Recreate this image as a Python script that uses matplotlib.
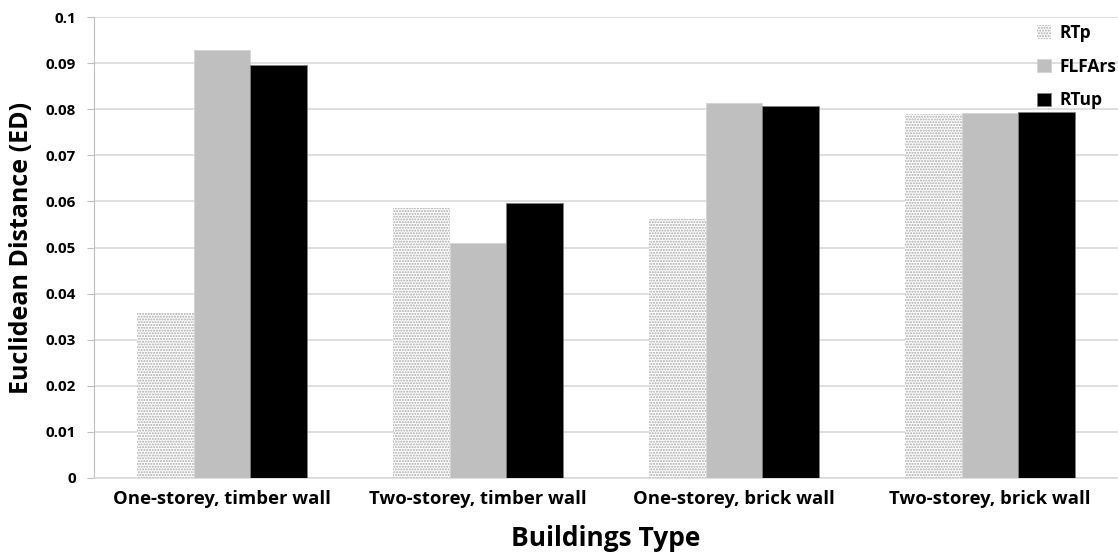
import matplotlib.pyplot as plt
import numpy as np

# values
categories = ["One-storey, timber wall", "Two-storey, timber wall",
              "One-storey, brick wall", "Two-storey, brick wall"]
rtp = [0.0358, 0.0586, 0.0562, 0.0790]
flfars = [0.0928, 0.0510, 0.0813, 0.0792]
rtup = [0.0896, 0.0597, 0.0807, 0.0794]
yticks = [0, 0.01, 0.02, 0.03, 0.04, 0.05, 0.06, 0.07, 0.08, 0.09, 0.1]
ytick_labels = ["0", "0.01", "0.02", "0.03", "0.04", "0.05", "0.06", "0.07", "0.08", "0.09", "0.1"]

plt.rcParams["font.family"] = ["Open Sans", "DejaVu Sans"]
plt.rcParams["hatch.linewidth"] = 1.0

fig = plt.figure(figsize=(11.18, 5.58), dpi=100)
ax = fig.add_axes([0.084, 0.1434, 0.916, 0.8261])

x = np.arange(len(categories))
w = 0.222

ax.bar(x - w, rtp, w, facecolor="white", edgecolor="#a8a8a8", hatch="......",
       linewidth=0, label="RTp", zorder=3)
ax.bar(x, flfars, w, color="#bfbfbf", edgecolor="#d0d0d0", linewidth=0.5,
       label="FLFArs", zorder=3)
ax.bar(x + w, rtup, w, color="black", edgecolor="#808080", linewidth=0.5,
       label="RTup", zorder=3)

ax.set_xlim(-0.5, len(categories) - 0.5)
ax.set_ylim(0, 0.1)
ax.set_yticks(yticks)
ax.set_yticklabels(ytick_labels, fontsize=11, fontweight="bold")
ax.set_xticks(x)
ax.set_xticklabels(categories, fontsize=13.3, fontweight="bold")
ax.tick_params(axis="x", length=0, pad=9)
ax.tick_params(axis="y", length=5, color="#bfbfbf", pad=8)

ax.grid(axis="y", color="#d9d9d9", linewidth=1.2, zorder=0)
for side in ["top", "right"]:
    ax.spines[side].set_visible(False)
ax.spines["left"].set_color("#bfbfbf")
ax.spines["bottom"].set_color("#d9d9d9")
ax.spines["bottom"].set_linewidth(1.2)

ax.set_ylabel("Euclidean Distance (ED)", fontsize=18, fontweight="bold", labelpad=8)
ax.set_xlabel("Buildings Type", fontsize=19, fontweight="bold", labelpad=12)

leg = ax.legend(loc="upper right", bbox_to_anchor=(1.005, 1.0), frameon=False,
                prop={"size": 12.5, "weight": "bold"}, labelspacing=0.9,
                handlelength=0.8, handleheight=0.8, handletextpad=0.5,
                borderaxespad=0)

fig.savefig("out.png", dpi=100)
